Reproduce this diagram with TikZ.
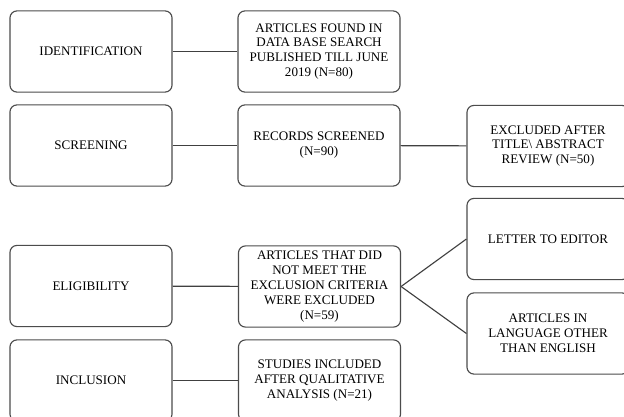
\documentclass[tikz,border=0pt]{standalone}
\usepackage{fontspec}
\setmainfont{Liberation Serif}
\begin{document}
\begin{tikzpicture}[x=0.025cm,y=-0.025cm,
  stage/.style={draw=black!70,fill=white,rounded corners=5pt,line width=0.8pt,
    minimum width=4.05cm,minimum height=2.03cm,align=center,inner sep=2pt,
    font=\fontsize{9.3}{10.6}\selectfont},
  link/.style={draw=black!75,line width=0.8pt}]
\useasboundingbox[fill=white] (0,0) rectangle (624,416);
\foreach \y/\n/\t in {51.5/ident/IDENTIFICATION,145.5/screen/SCREENING,286/elig/ELIGIBILITY,380.5/incl/INCLUSION} {
  \node[stage] (\n) at (91,\y) {\t};
}
\node[stage] (found) at (319,51.5) {ARTICLES FOUND IN\\DATA BASE SEARCH\\PUBLISHED TILL JUNE\\2019 (N=80)};
\node[stage] (records) at (319,145.5) {RECORDS SCREENED\\(N=90)};
\node[stage] (excl) at (548,146) {EXCLUDED AFTER\\TITLE\textbackslash{} ABSTRACT\\REVIEW (N=50)};
\node[stage] (notmet) at (319.5,286.5) {ARTICLES THAT DID\\NOT MEET THE\\EXCLUSION CRITERIA\\WERE EXCLUDED\\(N=59)};
\node[stage] (letter) at (548,239) {LETTER TO EDITOR};
\node[stage] (lang) at (548,333.5) {ARTICLES IN\\LANGUAGE OTHER\\THAN ENGLISH};
\node[stage] (studies) at (319.5,380.5) {STUDIES INCLUDED\\AFTER QUALITATIVE\\ANALYSIS (N=21)};
% connectors
\draw[link] (ident) -- (found);
\draw[link] (screen) -- (records);
\draw[link] (records) -- (excl);
\draw[link] (elig) -- (notmet);
\draw[link] (notmet.east) -- (letter.west);
\draw[link] (notmet.east) -- (lang.west);
\draw[link] (incl) -- (studies);
\end{tikzpicture}
\end{document}
